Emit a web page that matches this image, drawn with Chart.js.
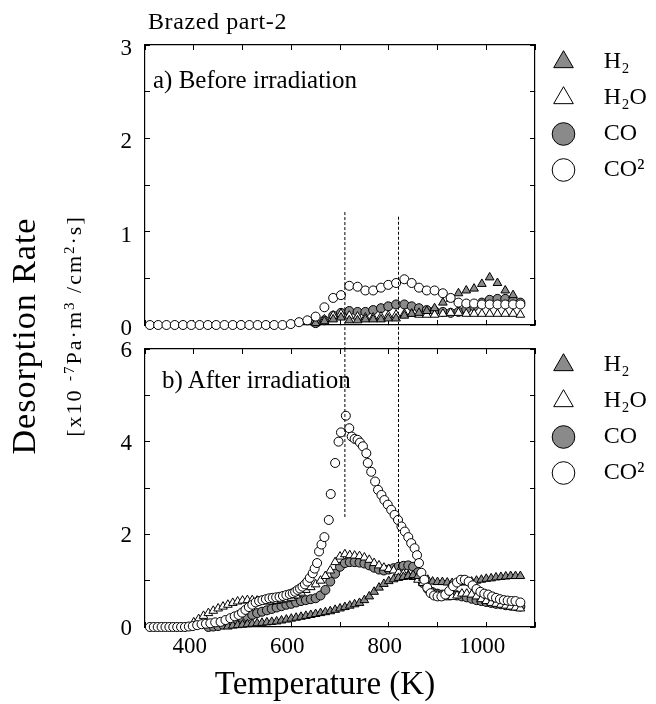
<!DOCTYPE html>
<html>
<head>
<meta charset="utf-8">
<title>Brazed part-2 desorption rate</title>
<script src="https://cdn.jsdelivr.net/npm/chart.js@4.4.1/dist/chart.umd.min.js"></script>
<style>
  body { margin: 0; background: #fff; }
  #fig { position: relative; width: 656px; height: 704px; font-family: "Liberation Serif", "Times New Roman", serif; color: #000; }
  #fig canvas { position: absolute; left: 0; top: 0; }
  .txt { position: absolute; white-space: nowrap; line-height: 1; }
  .rot { transform: translate(-50%, -50%) rotate(-90deg); }
  sup { font-size: 0.68em; vertical-align: 0.5em; line-height: 0; }
</style>
</head>
<body>
<div id="fig">
  <canvas id="panelB" width="656" height="704"></canvas>
  <canvas id="panelA" width="656" height="704"></canvas>
  <div class="txt" style="left:148px;top:9px;font-size:24px;letter-spacing:0.6px">Brazed part-2</div>
  <div class="txt" style="left:153px;top:67px;font-size:25px">a) Before irradiation</div>
  <div class="txt" style="left:162px;top:367px;font-size:25px">b) After irradiation</div>
  <div class="txt rot" style="left:24px;top:336px;font-size:34px;letter-spacing:1px">Desorption Rate</div>
  <div class="txt rot" style="left:74px;top:326px;font-size:22px;letter-spacing:2px">[x10 <sup>-7</sup>Pa·m<sup>3</sup> /cm<sup>2</sup>·s]</div>
  <div class="txt" style="left:325px;top:667px;font-size:33px;transform:translateX(-50%)">Temperature (K)</div>
</div>
<script>
'use strict';

// ---- axes ----
const tempMin = 300;
const tempMax = 1100;
const tempLabels = [400, 600, 800, 1000];
const ratesA = [0, 1, 2, 3];
const ratesB = [0, 2, 4, 6];

const speciesNames = ['H\u2082', 'H\u2082O', 'CO', 'CO\u00b2'];

// ---- a) before irradiation ----
const tempA = [310, 327, 344, 361, 378, 395, 412, 429, 446, 463,
  480, 497, 514, 531, 548, 565, 582, 599, 616, 633,
  650, 668, 686, 702, 719, 736, 752, 768, 784, 799,
  815, 832, 847, 862, 878, 894, 911, 927, 943, 959,
  975, 991, 1007, 1023, 1039, 1055, 1070];
const h2A = [null, null, null, null, null, null, null, null, null, null,
  null, null, null, null, null, null, null, null, null, null,
  0.02, 0.04, 0.06, 0.08, 0.05, 0.05, 0.06, 0.06, 0.06, 0.07,
  0.07, 0.10, 0.12, 0.13, 0.15, 0.18, 0.24, 0.28, 0.34, 0.37,
  0.39, 0.44, 0.51, 0.45, 0.37, 0.32, null];
const h2oA = [null, null, null, null, null, null, null, null, null, null,
  null, null, null, null, null, null, null, null, null, null,
  0.02, 0.06, 0.10, 0.12, 0.10, 0.09, 0.08, 0.08, 0.09, 0.10,
  0.11, 0.12, 0.12, 0.11, 0.11, 0.11, 0.12, 0.13, 0.13, 0.12,
  0.12, 0.12, 0.12, 0.12, 0.12, 0.12, 0.11];
const coA = [null, null, null, null, null, null, null, null, null, null,
  null, null, null, null, null, null, null, null, null, null,
  0.02, 0.05, 0.10, 0.13, 0.15, 0.14, 0.14, 0.16, 0.18, 0.20,
  0.22, 0.22, 0.20, 0.18, 0.16, 0.15, 0.14, 0.13, 0.14, 0.17,
  0.20, 0.24, 0.27, 0.28, 0.28, 0.26, 0.24];
const co2A = [0, 0, 0, 0, 0, 0, 0, 0, 0, 0,
  0, 0, 0, 0, 0, 0, 0, 0.01, 0.03, 0.05,
  0.09, 0.19, 0.29, 0.32, 0.42, 0.41, 0.37, 0.37, 0.40, 0.43,
  0.45, 0.49, 0.45, 0.40, 0.37, 0.37, 0.34, 0.29, 0.24, 0.23,
  0.23, 0.22, 0.22, 0.22, 0.22, 0.22, 0.22];

// ---- b) after irradiation ----
const tempB = [310, 320, 330, 340, 350, 360, 370, 380, 390, 400,
  410, 420, 430, 440, 450, 460, 470, 480, 490, 500,
  510, 520, 530, 540, 550, 560, 570, 580, 590, 600,
  610, 620, 630, 640, 650, 660, 670, 680, 690, 700,
  710, 720, 730, 740, 750, 760, 770, 780, 790, 800,
  810, 820, 830, 840, 850, 860, 870, 880, 890, 900,
  910, 920, 930, 940, 950, 960, 970, 980, 990, 1000,
  1010, 1020, 1030, 1040, 1050, 1060, 1070];
const h2B = [null, null, null, null, null, null, null, null, null, null,
  null, null, null, null, null, null, 0.01, 0.03, 0.04, 0.05,
  0.06, 0.07, 0.08, 0.09, 0.10, 0.11, 0.12, 0.14, 0.16, 0.18,
  0.20, 0.22, 0.24, 0.26, 0.28, 0.30, 0.32, 0.34, 0.37, 0.40,
  0.43, 0.46, 0.49, 0.52, 0.58, 0.66, 0.76, 0.85, 0.93, 0.99,
  1.03, 1.06, 1.08, 1.10, 1.12, 1.10, 1.06, 1.02, 0.98, 0.97,
  0.97, 0.96, 0.95, 0.95, 0.96, 0.97, 0.98, 1.00, 1.02, 1.04,
  1.05, 1.07, 1.08, 1.09, 1.10, 1.10, 1.10];
const h2oB = [null, null, null, null, null, null, null, null, null, 0.10,
  0.17, 0.24, 0.30, 0.35, 0.40, 0.44, 0.48, 0.52, 0.55, 0.57,
  0.58, 0.58, 0.57, 0.56, 0.55, 0.55, 0.56, 0.58, 0.60, 0.63,
  0.68, 0.74, 0.80, 0.86, 0.92, 1.00, 1.10, 1.22, 1.40, 1.52,
  1.57, 1.55, 1.54, 1.53, 1.50, 1.45, 1.38, 1.33, 1.28, 1.25,
  1.22, 1.18, 1.15, 1.12, 1.08, 1.02, 0.95, 0.85, 0.75, 0.70,
  0.66, 0.64, 0.65, 0.68, 0.72, 0.72, 0.70, 0.66, 0.60, 0.56,
  0.52, 0.50, 0.48, 0.46, 0.44, 0.42, 0.40];
const coB = [null, null, null, null, null, null, null, null, null, null,
  null, null, 0, 0.01, 0.02, 0.05, 0.08, 0.12, 0.15, 0.19,
  0.22, 0.26, 0.30, 0.33, 0.36, 0.39, 0.42, 0.45, 0.48, 0.50,
  0.53, 0.56, 0.58, 0.60, 0.62, 0.68, 0.80, 0.98, 1.15, 1.30,
  1.38, 1.40, 1.40, 1.39, 1.37, 1.33, 1.28, 1.24, 1.22, 1.24,
  1.27, 1.30, 1.32, 1.33, 1.30, 1.18, 0.95, 0.82, 0.75, 0.72,
  0.70, 0.70, 0.70, 0.68, 0.66, 0.64, 0.61, 0.58, 0.56, 0.54,
  0.52, 0.50, 0.49, 0.47, 0.46, 0.45, 0.44];
const tempCO2B = [310, 318, 326, 334, 342, 350, 358, 366, 374, 382,
  390, 398, 407, 416, 425, 434, 444, 455, 465, 475,
  484, 492, 499, 506, 513, 520, 527, 534, 541, 548,
  555, 562, 569, 576, 583, 590, 597, 603, 608, 613,
  618, 623, 628, 633, 638, 644, 648, 653, 657, 662,
  668, 677, 681, 690, 697, 702, 712, 719, 724, 730,
  736, 741, 747, 754, 757, 764, 772, 778, 785, 791,
  798, 805, 812, 819, 826, 833, 840, 846, 853, 858,
  862, 867, 873, 879, 886, 893, 900, 908, 916, 924,
  932, 940, 948, 956, 964, 972, 980, 988, 996, 1004,
  1012, 1020, 1028, 1036, 1044, 1052, 1060, 1070];
const co2B = [0, 0, 0, 0, 0, 0, 0, 0, 0, 0,
  0.01, 0.02, 0.04, 0.06, 0.07, 0.08, 0.10, 0.11, 0.15, 0.19,
  0.23, 0.26, 0.31, 0.37, 0.43, 0.48, 0.53, 0.56, 0.58, 0.60,
  0.62, 0.63, 0.64, 0.65, 0.67, 0.69, 0.71, 0.73, 0.76, 0.80,
  0.83, 0.87, 0.92, 0.98, 1.06, 1.16, 1.26, 1.38, 1.63, 1.78,
  1.94, 2.31, 2.87, 3.54, 4.00, 4.20, 4.56, 4.29, 4.11, 4.06,
  4.04, 3.98, 3.90, 3.75, 3.54, 3.35, 3.14, 2.96, 2.85, 2.74,
  2.64, 2.53, 2.42, 2.31, 2.17, 2.06, 1.94, 1.81, 1.70, 1.55,
  1.38, 1.17, 1.02, 0.85, 0.73, 0.68, 0.66, 0.66, 0.70, 0.78,
  0.88, 0.96, 1.02, 1.02, 0.98, 0.90, 0.82, 0.76, 0.72, 0.70,
  0.66, 0.63, 0.60, 0.58, 0.57, 0.56, 0.56, 0.53];

// dotted guide lines at the two desorption peaks
const peakTemps = [710, 820];
const guideTopA = [1.21, 1.16];
const guideBridgeA = -0.26;   // carries the guide through the gap between panels
const guideLowB = [2.35, 1.23];

// ---- styling ----
const FONT = 'Liberation Serif';
const GRAY = '#8a8a8a';
const drawOrder = [1, 2, 3, 0];   // CO2 circles sit on top

Chart.defaults.font.family = FONT;
Chart.defaults.color = '#000';

function speciesSet(i, xs, ys) {
  const tri = i < 2;
  const fill = i % 2 === 0 ? GRAY : '#fff';
  return {
    label: speciesNames[i],
    data: xs.map((x, k) => ({ x, y: ys[k] })),
    pointStyle: tri ? 'triangle' : 'circle',
    pointRadius: tri ? 5 : 4.5,
    backgroundColor: fill,
    pointBackgroundColor: fill,
    borderColor: '#000',
    pointBorderColor: '#000',
    borderWidth: 1,
    pointBorderWidth: 1,
    clip: false,
    order: drawOrder[i],
  };
}

function guideSet(t, yFrom, yTo) {
  return {
    data: [{ x: t, y: yFrom }, { x: t, y: yTo }],
    showLine: true,
    borderColor: '#000',
    borderWidth: 1,
    borderDash: [3, 2],
    pointRadius: 0,
    clip: false,
    order: -1,
  };
}

const tickGrid = { drawOnChartArea: false, tickLength: -5, color: '#000', lineWidth: 1 };
const frame = { display: true, color: '#000', width: 1.2 };
const tickFont = { family: FONT, size: 23 };

function panelScales(p) {
  return {
    x: {
      type: 'linear', min: tempMin, max: tempMax, position: 'bottom',
      grid: tickGrid, border: frame,
      ticks: {
        display: p.showTemps, stepSize: 100, autoSkip: false, maxRotation: 0,
        callback: v => (tempLabels.includes(v) ? String(v) : ''),
        font: tickFont, color: '#000', padding: 11, labelOffset: -4,
      },
      afterFit: s => { s.height = p.xHeight; },
    },
    xTop: {
      type: 'linear', min: tempMin, max: tempMax, position: 'top',
      grid: tickGrid, border: frame,
      ticks: { display: false, stepSize: 100 },
      afterFit: s => { s.height = p.topGap; },
    },
    y: {
      type: 'linear', min: 0, max: p.yMax, position: 'left',
      grid: tickGrid, border: frame,
      ticks: {
        stepSize: p.yStep, autoSkip: false,
        callback: v => (p.yLabels.includes(v) ? String(v) : ''),
        font: tickFont, color: '#000', padding: 18, labelOffset: p.labelShift,
      },
      afterFit: s => { s.width = 145; },
    },
    yRight: {
      type: 'linear', min: 0, max: p.yMax, position: 'right',
      grid: tickGrid, border: frame,
      ticks: { display: false, stepSize: p.yStep },
      afterFit: s => { s.width = 5; },
    },
  };
}

const legendOpts = {
  position: 'right',
  align: 'start',
  labels: {
    usePointStyle: true,
    boxWidth: 23,
    boxHeight: 16,
    padding: 12,
    color: '#000',
    font: { family: FONT, size: 24 },
    generateLabels: chart => Chart.defaults.plugins.legend.labels.generateLabels(chart)
      .filter(item => item.datasetIndex < speciesNames.length)
      .sort((a, b) => a.datasetIndex - b.datasetIndex)
      .map(item => Object.assign(item, { text: '\u2002\u2009' + item.text })),
  },
};

function panelOptions(p) {
  return {
    responsive: false,
    animation: false,
    devicePixelRatio: 1,
    events: [],
    layout: { padding: { top: p.padTop, right: 8, bottom: 0, left: 0 } },
    scales: panelScales(p),
    plugins: { legend: legendOpts, tooltip: { enabled: false } },
  };
}

// --- b) After irradiation (lower panel) ---
new Chart(document.getElementById('panelB'), {
  type: 'scatter',
  data: {
    datasets: [
      speciesSet(0, tempB, h2B),
      speciesSet(1, tempB, h2oB),
      speciesSet(2, tempB, coB),
      speciesSet(3, tempCO2B, co2B),
      guideSet(peakTemps[0], ratesB[3], guideLowB[0]),
      guideSet(peakTemps[1], ratesB[3], guideLowB[1]),
    ],
  },
  options: panelOptions({
    padTop: 341, topGap: 8, xHeight: 77, showTemps: true,
    yMax: 6, yStep: 1, yLabels: ratesB, labelShift: 2,
  }),
});

// --- a) Before irradiation (upper panel) ---
new Chart(document.getElementById('panelA'), {
  type: 'scatter',
  data: {
    datasets: [
      speciesSet(0, tempA, h2A),
      speciesSet(1, tempA, h2oA),
      speciesSet(2, tempA, coA),
      speciesSet(3, tempA, co2A),
      guideSet(peakTemps[0], guideTopA[0], guideBridgeA),
      guideSet(peakTemps[1], guideTopA[1], guideBridgeA),
    ],
  },
  options: panelOptions({
    padTop: 38, topGap: 7, xHeight: 379, showTemps: false,
    yMax: 3, yStep: 0.5, yLabels: ratesA, labelShift: 4,
  }),
});
</script>
</body>
</html>
